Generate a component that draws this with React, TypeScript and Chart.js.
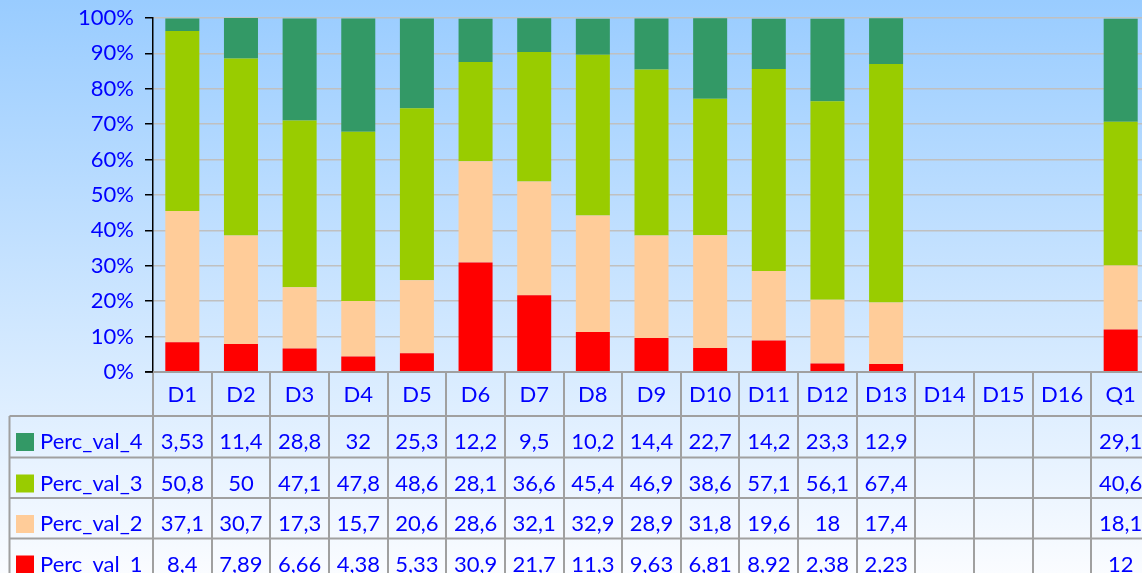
import React, { useEffect, useRef } from "react";
import { Chart, registerables } from "chart.js";

Chart.register(...registerables);

const categories = ["D1", "D2", "D3", "D4", "D5", "D6", "D7", "D8", "D9", "D10", "D11", "D12", "D13", "D14", "D15", "D16", "Q1"];
const percVal1 = [8.4, 7.89, 6.66, 4.38, 5.33, 30.9, 21.7, 11.3, 9.63, 6.81, 8.92, 2.38, 2.23, null, null, null, 12];
const percVal2 = [37.1, 30.7, 17.3, 15.7, 20.6, 28.6, 32.1, 32.9, 28.9, 31.8, 19.6, 18, 17.4, null, null, null, 18.1];
const percVal3 = [50.8, 50, 47.1, 47.8, 48.6, 28.1, 36.6, 45.4, 46.9, 38.6, 57.1, 56.1, 67.4, null, null, null, 40.6];
const percVal4 = [3.53, 11.4, 28.8, 32, 25.3, 12.2, 9.5, 10.2, 14.4, 22.7, 14.2, 23.3, 12.9, null, null, null, 29.1];
const seriesNames = ["Perc_val_1", "Perc_val_2", "Perc_val_3", "Perc_val_4"];
const seriesColors = ["#FF0000", "#FFCC99", "#99CC00", "#339966"];

const BLUE = "#0000FF";
const FONT = "Lato, 'Noto Sans', sans-serif";

const fmt = (v: number | null) => (v === null || v === undefined ? "" : String(v).replace(".", ","));

const tablePlugin = {
  id: "dataTable",
  afterDraw(chart: any) {
    const ctx = chart.ctx;
    const x = chart.scales.x;
    const area = chart.chartArea;
    const n = categories.length;
    const colW = (area.right - area.left) / n;
    const left = area.left;
    const top = area.bottom;
    const headerBottom = 416;
    const rowTops = [416, 457.5, 498, 538.5];
    const rowH = 41;
    const tableLeft = 9.5;
    const bottom = 620;
    ctx.save();
    ctx.strokeStyle = "#A0A0A0";
    ctx.lineWidth = 2;
    ctx.beginPath();
    ctx.moveTo(left, top);
    ctx.lineTo(area.right + 20, top);
    rowTops.forEach((ry) => {
      ctx.moveTo(tableLeft, ry);
      ctx.lineTo(area.right + 20, ry);
    });
    ctx.moveTo(tableLeft, rowTops[3] + rowH);
    ctx.lineTo(area.right + 20, rowTops[3] + rowH);
    ctx.moveTo(tableLeft, headerBottom);
    ctx.lineTo(tableLeft, bottom);
    for (let i = 0; i <= n; i++) {
      const cx = Math.round(left + i * colW);
      ctx.moveTo(cx, top);
      ctx.lineTo(cx, bottom);
    }
    ctx.stroke();
    ctx.strokeStyle = "#000";
    ctx.lineWidth = 1.5;
    ctx.beginPath();
    ctx.moveTo(left - 8, top);
    ctx.lineTo(left, top);
    ctx.stroke();

    ctx.font = `22px ${FONT}`;
    ctx.fillStyle = BLUE;
    ctx.textBaseline = "middle";
    ctx.textAlign = "center";
    categories.forEach((c, i) => {
      ctx.fillText(c, x.getPixelForValue(i), top + 23);
    });
    const rows = [
      { name: seriesNames[3], color: seriesColors[3], data: percVal4 },
      { name: seriesNames[2], color: seriesColors[2], data: percVal3 },
      { name: seriesNames[1], color: seriesColors[1], data: percVal2 },
      { name: seriesNames[0], color: seriesColors[0], data: percVal1 },
    ];
    rows.forEach((r, ri) => {
      const mid = rowTops[ri] + 26;
      ctx.fillStyle = r.color;
      ctx.fillRect(16, mid - 9, 18, 18);
      ctx.fillStyle = BLUE;
      ctx.textAlign = "left";
      ctx.fillText(r.name, 40, mid);
      ctx.textAlign = "center";
      r.data.forEach((v, i) => {
        ctx.fillText(fmt(v), x.getPixelForValue(i), mid);
      });
    });
    ctx.restore();
  },
};

export default function App() {
  const ref = useRef<HTMLCanvasElement>(null);
  useEffect(() => {
    if (!ref.current) return;
    const datasets = [percVal1, percVal2, percVal3, percVal4].map((d, i) => ({
      label: seriesNames[i],
      data: d,
      backgroundColor: seriesColors[i],
      borderWidth: 0,
      categoryPercentage: 1,
      barPercentage: 0.58,
    }));
    const chart = new Chart(ref.current, {
      type: "bar",
      data: { labels: categories, datasets },
      options: {
        responsive: false,
        animation: false,
        devicePixelRatio: 1,
        layout: { padding: { left: 0, right: 0, top: 18, bottom: 228 } },
        plugins: { legend: { display: false }, tooltip: { enabled: false } },
        scales: {
          x: { stacked: true, display: false },
          y: {
            stacked: true,
            min: 0,
            max: 100,
            afterFit: (s: any) => {
              s.width = 153;
              s.paddingTop = 0;
              s.paddingBottom = 0;
            },
            ticks: {
              stepSize: 10,
              padding: 11,
              color: BLUE,
              font: { family: FONT, size: 22 },
              callback: (v: any) => `${v}%`,
            },
            grid: { color: "#C0C0C0", lineWidth: 1.5, tickColor: "#000", tickLength: 8, drawTicks: true },
            border: { display: true, color: "#000", width: 1.5 },
          },
        },
      },
      plugins: [tablePlugin],
    });
    return () => chart.destroy();
  }, []);
  return (
    <div
      style={{
        position: "absolute",
        left: 0,
        top: 0,
        width: 1142,
        height: 573,
        overflow: "hidden",
        background: "linear-gradient(to bottom, #99CCFF 0%, #FAFCFF 100%)",
      }}
    >
      <canvas ref={ref} width={1150} height={600} style={{ display: "block" }} />
    </div>
  );
}
